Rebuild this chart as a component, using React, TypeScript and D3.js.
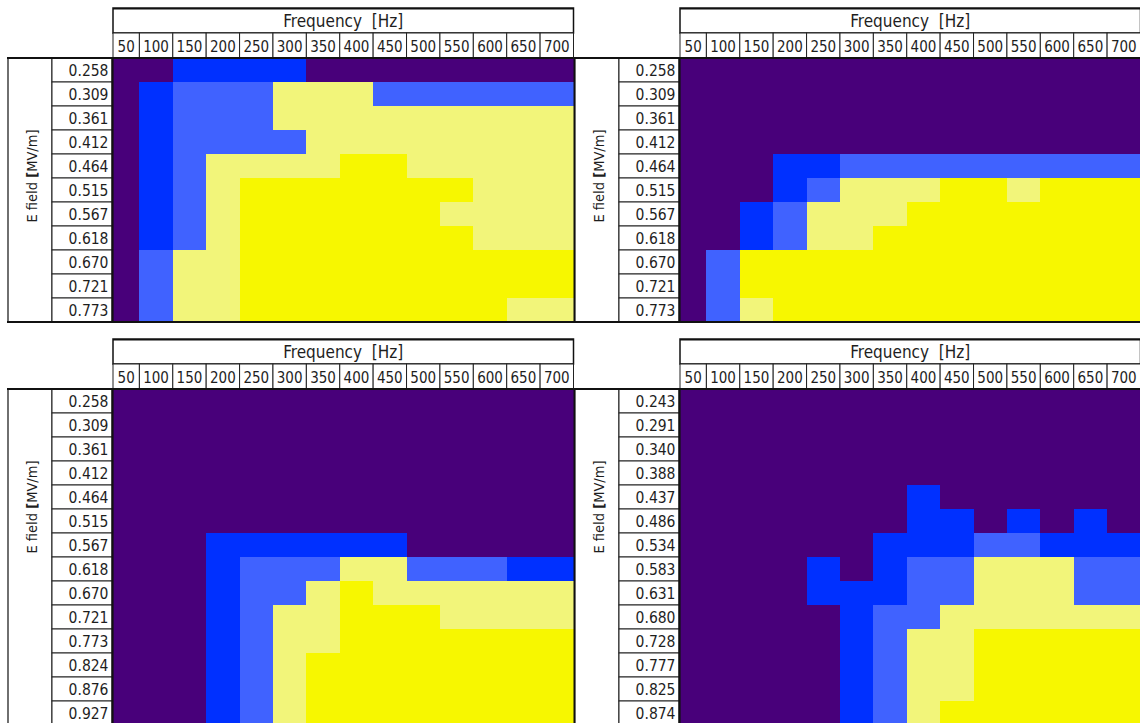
import React from "react";
import * as d3 from "d3";

const frequencies = [50, 100, 150, 200, 250, 300, 350, 400, 450, 500, 550, 600, 650, 700];

// levels: 0 purple, 1 blue, 2 light blue, 3 light yellow, 4 yellow
const fieldsA = ["0.258", "0.309", "0.361", "0.412", "0.464", "0.515", "0.567", "0.618", "0.670", "0.721", "0.773"];
const levelsA = [
  [0, 0, 1, 1, 1, 1, 0, 0, 0, 0, 0, 0, 0, 0],
  [0, 1, 2, 2, 2, 3, 3, 3, 2, 2, 2, 2, 2, 2],
  [0, 1, 2, 2, 2, 3, 3, 3, 3, 3, 3, 3, 3, 3],
  [0, 1, 2, 2, 2, 2, 3, 3, 3, 3, 3, 3, 3, 3],
  [0, 1, 2, 3, 3, 3, 3, 4, 4, 3, 3, 3, 3, 3],
  [0, 1, 2, 3, 4, 4, 4, 4, 4, 4, 4, 3, 3, 3],
  [0, 1, 2, 3, 4, 4, 4, 4, 4, 4, 3, 3, 3, 3],
  [0, 1, 2, 3, 4, 4, 4, 4, 4, 4, 4, 3, 3, 3],
  [0, 2, 3, 3, 4, 4, 4, 4, 4, 4, 4, 4, 4, 4],
  [0, 2, 3, 3, 4, 4, 4, 4, 4, 4, 4, 4, 4, 4],
  [0, 2, 3, 3, 4, 4, 4, 4, 4, 4, 4, 4, 3, 3],
];

const fieldsB = ["0.258", "0.309", "0.361", "0.412", "0.464", "0.515", "0.567", "0.618", "0.670", "0.721", "0.773"];
const levelsB = [
  [0, 0, 0, 0, 0, 0, 0, 0, 0, 0, 0, 0, 0, 0],
  [0, 0, 0, 0, 0, 0, 0, 0, 0, 0, 0, 0, 0, 0],
  [0, 0, 0, 0, 0, 0, 0, 0, 0, 0, 0, 0, 0, 0],
  [0, 0, 0, 0, 0, 0, 0, 0, 0, 0, 0, 0, 0, 0],
  [0, 0, 0, 1, 1, 2, 2, 2, 2, 2, 2, 2, 2, 2],
  [0, 0, 0, 1, 2, 3, 3, 3, 4, 4, 3, 4, 4, 4],
  [0, 0, 1, 2, 3, 3, 3, 4, 4, 4, 4, 4, 4, 4],
  [0, 0, 1, 2, 3, 3, 4, 4, 4, 4, 4, 4, 4, 4],
  [0, 2, 4, 4, 4, 4, 4, 4, 4, 4, 4, 4, 4, 4],
  [0, 2, 4, 4, 4, 4, 4, 4, 4, 4, 4, 4, 4, 4],
  [0, 2, 3, 4, 4, 4, 4, 4, 4, 4, 4, 4, 4, 4],
];

const fieldsC = ["0.258", "0.309", "0.361", "0.412", "0.464", "0.515", "0.567", "0.618", "0.670", "0.721", "0.773", "0.824", "0.876", "0.927"];
const levelsC = [
  [0, 0, 0, 0, 0, 0, 0, 0, 0, 0, 0, 0, 0, 0],
  [0, 0, 0, 0, 0, 0, 0, 0, 0, 0, 0, 0, 0, 0],
  [0, 0, 0, 0, 0, 0, 0, 0, 0, 0, 0, 0, 0, 0],
  [0, 0, 0, 0, 0, 0, 0, 0, 0, 0, 0, 0, 0, 0],
  [0, 0, 0, 0, 0, 0, 0, 0, 0, 0, 0, 0, 0, 0],
  [0, 0, 0, 0, 0, 0, 0, 0, 0, 0, 0, 0, 0, 0],
  [0, 0, 0, 1, 1, 1, 1, 1, 1, 0, 0, 0, 0, 0],
  [0, 0, 0, 1, 2, 2, 2, 3, 3, 2, 2, 2, 1, 1],
  [0, 0, 0, 1, 2, 2, 3, 4, 3, 3, 3, 3, 3, 3],
  [0, 0, 0, 1, 2, 3, 3, 4, 4, 4, 3, 3, 3, 3],
  [0, 0, 0, 1, 2, 3, 3, 4, 4, 4, 4, 4, 4, 4],
  [0, 0, 0, 1, 2, 3, 4, 4, 4, 4, 4, 4, 4, 4],
  [0, 0, 0, 1, 2, 3, 4, 4, 4, 4, 4, 4, 4, 4],
  [0, 0, 0, 1, 2, 3, 4, 4, 4, 4, 4, 4, 4, 4],
];

const fieldsD = ["0.243", "0.291", "0.340", "0.388", "0.437", "0.486", "0.534", "0.583", "0.631", "0.680", "0.728", "0.777", "0.825", "0.874"];
const levelsD = [
  [0, 0, 0, 0, 0, 0, 0, 0, 0, 0, 0, 0, 0, 0],
  [0, 0, 0, 0, 0, 0, 0, 0, 0, 0, 0, 0, 0, 0],
  [0, 0, 0, 0, 0, 0, 0, 0, 0, 0, 0, 0, 0, 0],
  [0, 0, 0, 0, 0, 0, 0, 0, 0, 0, 0, 0, 0, 0],
  [0, 0, 0, 0, 0, 0, 0, 1, 0, 0, 0, 0, 0, 0],
  [0, 0, 0, 0, 0, 0, 0, 1, 1, 0, 1, 0, 1, 0],
  [0, 0, 0, 0, 0, 0, 1, 1, 1, 2, 2, 1, 1, 1],
  [0, 0, 0, 0, 1, 0, 1, 2, 2, 3, 3, 3, 2, 2],
  [0, 0, 0, 0, 1, 1, 1, 2, 2, 3, 3, 3, 2, 2],
  [0, 0, 0, 0, 0, 1, 2, 2, 3, 3, 3, 3, 3, 3],
  [0, 0, 0, 0, 0, 1, 2, 3, 3, 4, 4, 4, 4, 4],
  [0, 0, 0, 0, 0, 1, 2, 3, 3, 4, 4, 4, 4, 4],
  [0, 0, 0, 0, 0, 1, 2, 3, 3, 4, 4, 4, 4, 4],
  [0, 0, 0, 0, 0, 1, 2, 3, 4, 4, 4, 4, 4, 4],
];

const levelColors = ["#48007a", "#0030ff", "#4062ff", "#f2f57a", "#f7f700"];

const xTitle = "Frequency  [Hz]";
const yTitle = "E field ";
const yUnit = "[MV/m]";

const FONT = "'DejaVu Sans Condensed', 'DejaVu Sans', sans-serif";
const TXT = "#1e1e1e";

type PanelProps = { ox: number; oy: number; fields: string[]; levels: number[][] };

function Panel({ ox, oy, fields, levels }: PanelProps) {
  const left = ox + 113;
  const right = ox + 573.5;
  const top = oy + 58;
  const rowH = 24;
  const x = d3.scaleBand<number>().domain(frequencies).range([ox + 106, right]).paddingInner(0).paddingOuter(0);
  const y = d3.scaleBand<string>().domain(fields).range([top, top + rowH * fields.length]);
  const color = d3.scaleOrdinal<number, string>().domain([0, 1, 2, 3, 4]).range(levelColors);
  const bottom = top + rowH * fields.length;
  const cx = (f: number) => Math.max(x(f)!, left);
  const cw = (f: number) => x(f)! + x.bandwidth() - cx(f);

  return (
    <g>
      {/* heatmap */}
      <g shapeRendering="crispEdges">
        {levels.map((row, ri) =>
          row.map((lv, ci) => {
            const f = frequencies[ci];
            const x0 = Math.round(cx(f));
            const x1 = Math.round(cx(f) + cw(f));
            const y0 = Math.round(y(fields[ri])!);
            const y1 = Math.round(y(fields[ri])! + y.bandwidth());
            return <rect key={`${ri}-${ci}`} x={x0} y={y0} width={x1 - x0} height={y1 - y0} fill={color(lv)} />;
          })
        )}
      </g>
      {/* title box */}
      <rect x={left} y={oy + 8} width={right - left} height={25} fill="#fff" stroke="#111" strokeWidth={1.5} />
      <rect x={left} y={oy + 8} width={right - left} height={1.5} fill="#111" />
      <text x={(left + right) / 2} y={oy + 26.5} textAnchor="middle" fontFamily={FONT} fontSize={17} fill={TXT} style={{ whiteSpace: "pre" }}>
        {xTitle}
      </text>
      {/* frequency header cells */}
      {frequencies.map((f) => (
        <g key={f}>
          <rect x={cx(f)} y={oy + 33} width={cw(f)} height={25} fill="#fff" stroke="#222" strokeWidth={1} />
          <text x={cx(f) + cw(f) / 2} y={oy + 51.5} textAnchor="middle" fontFamily={FONT} fontSize={15} fill={TXT}>
            {f}
          </text>
        </g>
      ))}
      {/* y title box */}
      <rect x={ox + 8} y={top} width={44} height={bottom - top} fill="#fff" stroke="#111" strokeWidth={1.2} />
      <text
        transform={`translate(${ox + 37},${top + 118}) rotate(-90)`}
        textAnchor="middle"
        fontFamily={FONT}
        fontSize={14.5}
        fill={TXT}
      >
        {yTitle}
        <tspan fontWeight="bold">[</tspan>
        {yUnit.slice(1)}
      </text>
      {/* row labels */}
      {fields.map((fl) => (
        <g key={fl}>
          <rect x={ox + 52} y={y(fl)!} width={60} height={rowH} fill="#fff" stroke="#222" strokeWidth={1} />
          <text x={ox + 108.5} y={y(fl)! + 18} textAnchor="end" fontFamily={FONT} fontSize={15.5} fill={TXT}>
            {fl}
          </text>
        </g>
      ))}
      {/* thick borders */}
      <line x1={ox + 7} x2={right} y1={top} y2={top} stroke="#111" strokeWidth={2.2} />
      <line x1={left - 0.5} x2={left - 0.5} y1={top} y2={bottom} stroke="#111" strokeWidth={2.2} />
      <line x1={ox + 7} x2={right + 2} y1={bottom} y2={bottom} stroke="#111" strokeWidth={2} />
      <line x1={right + 0.8} x2={right + 0.8} y1={top} y2={bottom} stroke="#111" strokeWidth={1.6} />
    </g>
  );
}

export default function App() {
  return (
    <svg width={1140} height={723} style={{ position: "absolute", left: 0, top: 0, background: "#fff" }}>
      <rect width={1140} height={723} fill="#fff" />
      <Panel ox={0} oy={0} fields={fieldsA} levels={levelsA} />
      <Panel ox={567} oy={0} fields={fieldsB} levels={levelsB} />
      <Panel ox={0} oy={331} fields={fieldsC} levels={levelsC} />
      <Panel ox={567} oy={331} fields={fieldsD} levels={levelsD} />
    </svg>
  );
}
